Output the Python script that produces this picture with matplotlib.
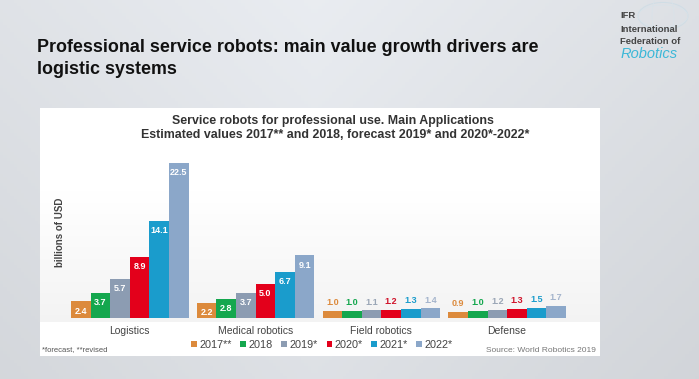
import numpy as np
import matplotlib.pyplot as plt
from matplotlib.patches import Rectangle, Circle, Ellipse

plt.rcParams['font.family'] = ['Liberation Sans', 'DejaVu Sans']

# DATA
categories = ['Logistics', 'Medical robotics', 'Field robotics', 'Defense']
years = ['2017**', '2018', '2019*', '2020*', '2021*', '2022*']
v2017 = [2.4, 2.2, 1.0, 0.9]
v2018 = [3.7, 2.8, 1.0, 1.0]
v2019 = [5.7, 3.7, 1.1, 1.2]
v2020 = [8.9, 5.0, 1.2, 1.3]
v2021 = [14.1, 6.7, 1.3, 1.5]
v2022 = [22.5, 9.1, 1.4, 1.7]
series = [v2017, v2018, v2019, v2020, v2021, v2022]
colors = ['#dc8a3c', '#14a74e', '#8c9cb2', '#e3001b', '#1a9ccc', '#8ba7c9']
label_colors = ['#dc8a3c', '#14a74e', '#9aa6b6', '#d0132a', '#1a9ccc', '#a4b4cc']

W, H = 699, 379
fig = plt.figure(figsize=(W / 100, H / 100), dpi=100)

# slide background gradient
bg = fig.add_axes([0, 0, 1, 1])
xx = np.linspace(0, 1, 200)
yy = np.linspace(0, 1, 120)
X, Y = np.meshgrid(xx, yy)
shade = 0.935 - 0.05 * np.abs(X - 0.45) * 1.7 - 0.045 * Y
img = np.dstack([shade - 0.02, shade - 0.008, shade + 0.01])
bg.imshow(np.clip(img, 0, 1), extent=[0, 1, 0, 1], aspect='auto', origin='upper')
bg.set_xlim(0, 1)
bg.set_ylim(0, 1)
bg.axis('off')

def fx(px):
    return px / W

def fy(py):
    return 1 - py / H

# white chart panel with faint grey shading in the plot area
bg.add_patch(Rectangle((fx(40), fy(356)), fx(600) - fx(40), fy(108) - fy(356),
                       facecolor='white', edgecolor='none'))
panel = np.linspace(1.0, 0.955, 60)[:, None] * np.ones((60, 10))
bg.imshow(np.dstack([panel, panel, panel]), extent=[fx(40), fx(600), fy(322), fy(190)],
          aspect='auto', origin='upper', zorder=2)

# slide title
fig.text(fx(37), fy(47), 'Professional service robots: main value growth drivers are',
         fontsize=12.9, fontweight='bold', color='#111111', va='center')
fig.text(fx(37), fy(70), 'logistic systems',
         fontsize=12.9, fontweight='bold', color='#111111', va='center')

# IFR logo
bg.add_patch(Circle((fx(663), fy(16)), 25 / W, fill=False, edgecolor='#cfdde5', lw=0.7))
bg.add_patch(Ellipse((fx(663), fy(16)), 50 / W, 22 / H, fill=False, edgecolor='#d8e3ea', lw=0.5))
bg.add_patch(Ellipse((fx(663), fy(16)), 22 / W, 50 / H, fill=False, edgecolor='#d8e3ea', lw=0.5))
fig.text(fx(620), fy(16), 'IFR', fontsize=6.8, fontweight='bold', color='#444444', va='center')
fig.text(fx(620), fy(29), 'International', fontsize=6.8, fontweight='bold', color='#444444', va='center')
fig.text(fx(620), fy(42), 'Federation of', fontsize=6.8, fontweight='bold', color='#444444', va='center')
fig.text(fx(621), fy(54), 'Robotics', fontsize=10.5, style='italic', color='#3cb8d8', va='center')

# chart titles
fig.text(fx(333), fy(121), 'Service robots for professional use. Main Applications',
         fontsize=8.9, fontweight='bold', color='#333333', ha='center', va='center')
fig.text(fx(335), fy(135), 'Estimated values 2017** and 2018, forecast 2019* and 2020*-2022*',
         fontsize=8.9, fontweight='bold', color='#333333', ha='center', va='center')

# bar axes
top_px = 150
base_px = 318
ax = fig.add_axes([fx(67), fy(base_px), fx(570) - fx(67), (base_px - top_px) / H])
ax.set_xlim(-0.5, 3.5)
ax.set_ylim(0, (base_px - top_px) / 6.88)
ax.patch.set_alpha(0)
for s in ax.spines.values():
    s.set_visible(False)
ax.set_xticks([])
ax.set_yticks([])

x = np.arange(len(categories))
bw = 0.156
for i, (vals, c) in enumerate(zip(series, colors)):
    pos = x + (i - 2.5) * bw
    ax.bar(pos, vals, width=bw, color=c, edgecolor='none', label=years[i])
    for p, v in zip(pos, vals):
        if v >= 2:
            ax.annotate(f'{v:.1f}', (p, v), xytext=(0, -7), textcoords='offset points',
                        ha='center', va='center', fontsize=6.5, fontweight='bold', color='white')
        else:
            ax.annotate(f'{v:.1f}', (p, v), xytext=(0, 6), textcoords='offset points',
                        ha='center', va='center', fontsize=6.5, fontweight='bold',
                        color=label_colors[i])

for xi, cat in zip(x, categories):
    ax.annotate(cat, (xi, 0), xytext=(0, -9.5), textcoords='offset points',
                ha='center', va='center', fontsize=7.5, color='#444444')

fig.text(fx(60), fy(232), 'billions of USD', rotation=90, fontsize=7, fontweight='bold',
         color='#444444', ha='center', va='center')

leg = ax.legend(loc='center', bbox_to_anchor=(fx(322), fy(345)), bbox_transform=fig.transFigure,
                ncol=6, frameon=False, fontsize=7.8, handlelength=0.55, handleheight=0.55,
                handletextpad=0.2, columnspacing=0.8)
for t in leg.get_texts():
    t.set_color('#444444')

fig.text(fx(42), fy(350), '*forecast, **revised', fontsize=5.5, color='#555555', va='center')
fig.text(fx(596), fy(350), 'Source: World Robotics 2019', fontsize=6, color='#777777',
         ha='right', va='center')

fig.savefig('out.png', dpi=100)
